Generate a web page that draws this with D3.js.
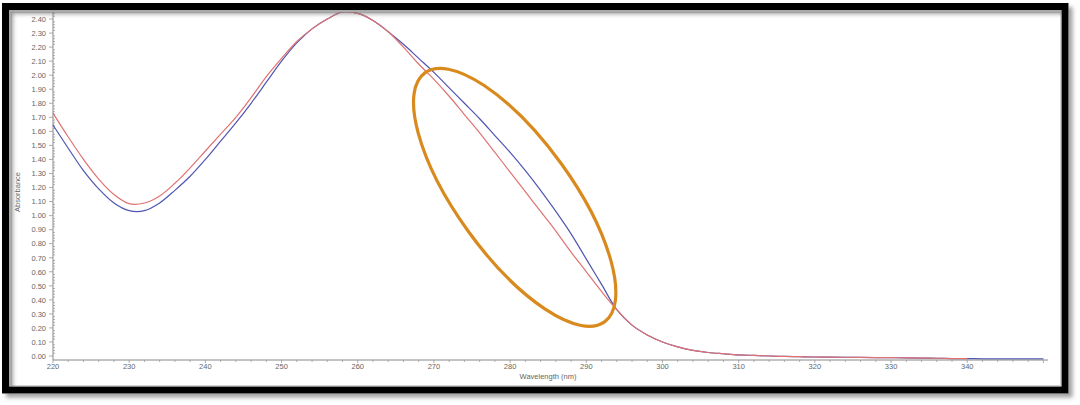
<!DOCTYPE html>
<html>
<head>
<meta charset="utf-8">
<script src="https://cdn.jsdelivr.net/npm/d3@7"></script>
<style>
  body { margin: 0; background: #fff; }
  svg { display: block; font-family: "Liberation Sans", Arial, sans-serif; }
</style>
</head>
<body>
<div id="chart"></div>
<script>

// wavelength (nm) and absorbance
var wavelengths = [220,222,224,226,228,230,232,234,236,238,240,242,244,246,248,250,252,254,256,258,
                   260,262,264,266,268,270,272,274,276,278,280,282,284,286,288,290,292,294,296,298,
                   300,302,304,306,308,310,312,314,316,318,320,322,324,326,328,330,332,334,336,338,
                   340,342,344,346,348,350];

var redValues = [1.73,1.56,1.40,1.26,1.15,1.085,1.09,1.14,1.23,1.34,1.46,1.58,1.70,1.84,1.99,2.12,2.24,2.33,2.40,2.45,
                 2.44,2.39,2.31,2.20,2.08,1.97,1.85,1.72,1.59,1.45,1.31,1.17,1.03,0.89,0.74,0.60,0.46,0.33,0.22,0.15,
                 0.10,0.065,0.04,0.025,0.016,0.008,0.004,0.0,-0.003,-0.005,-0.007,-0.008,-0.009,-0.010,-0.011,-0.012,-0.013,-0.015,-0.016,-0.018,
                 -0.019,null,null,null,null,null];

var blueValues = [1.645,1.48,1.32,1.19,1.09,1.035,1.035,1.09,1.18,1.28,1.40,1.53,1.66,1.80,1.95,2.10,2.23,2.33,2.40,2.45,
                  2.44,2.39,2.31,2.22,2.12,2.02,1.91,1.80,1.69,1.57,1.45,1.32,1.18,1.03,0.87,0.69,0.51,0.33,0.22,0.15,
                  0.10,0.065,0.04,0.025,0.016,0.008,0.004,0.0,-0.003,-0.005,-0.007,-0.008,-0.009,-0.010,-0.011,-0.012,-0.013,-0.015,-0.016,-0.018,
                  -0.019,-0.02,-0.02,-0.02,-0.02,-0.02];

var xTicks = [220,230,240,250,260,270,280,290,300,310,320,330,340];
var yTicks = d3.range(0, 25).map(function(i) { return i / 10; });

// highlighted region (ellipse) in data units
var highlight = {nm: 280.6, abs: 1.13};

var W = 1080, H = 405;

var x = d3.scaleLinear().domain([220, 350.6]).range([53, 1048]);
var y = d3.scaleLinear().domain([0, 2.4]).range([356, 19.04]);
var axisY = 360;

var svg = d3.select("#chart").append("svg")
    .attr("width", W)
    .attr("height", H);

var defs = svg.append("defs");
var f = defs.append("filter").attr("id", "shadow")
    .attr("x", "-5%").attr("y", "-5%").attr("width", "110%").attr("height", "115%");
f.append("feDropShadow").attr("dx", 4).attr("dy", 4).attr("stdDeviation", 2)
    .attr("flood-color", "#777").attr("flood-opacity", 0.7);

defs.append("clipPath").attr("id", "plotclip")
  .append("rect").attr("x", 11).attr("y", 12).attr("width", 1050).attr("height", 374);

svg.append("rect").attr("width", W).attr("height", H).attr("fill", "#fff");

// inner light border
svg.append("rect")
    .attr("x", 11.5).attr("y", 12.5).attr("width", 1049).attr("height", 373)
    .attr("fill", "none").attr("stroke", "#d4d4d4").attr("stroke-width", 1);

var plot = svg.append("g").attr("clip-path", "url(#plotclip)");

// y axis line + ticks
plot.append("line")
    .attr("x1", x(220)).attr("x2", x(220))
    .attr("y1", 10).attr("y2", axisY)
    .attr("stroke", "#888").attr("stroke-width", 1);

d3.range(0, 126).forEach(function(i) {
    var v = i / 50;
    var major = (i % 5 == 0);
    plot.append("line")
        .attr("x1", x(220) - (major ? 4 : 0)).attr("x2", x(220) + (major ? 0 : 2))
        .attr("y1", y(v)).attr("y2", y(v))
        .attr("stroke", "#999").attr("stroke-width", 0.8);
});

plot.selectAll(".ylab")
    .data(yTicks)
  .enter().append("text")
    .attr("class", "ylab")
    .attr("x", 46)
    .attr("y", function(d) { return y(d) + 2.8; })
    .attr("text-anchor", "end")
    .attr("font-size", 7.5)
    .attr("fill", "#666")
    .text(function(d) { return d.toFixed(2); });

// x axis line + ticks
svg.append("line")
    .attr("x1", x(220)).attr("x2", x(350.6))
    .attr("y1", axisY).attr("y2", axisY)
    .attr("stroke", "#888").attr("stroke-width", 1);

d3.range(220, 351, 2).forEach(function(v) {
    var major = (v % 10 == 0);
    svg.append("line")
        .attr("x1", x(v)).attr("x2", x(v))
        .attr("y1", axisY).attr("y2", axisY + (major ? 3 : 2))
        .attr("stroke", "#999").attr("stroke-width", 0.8);
});

svg.selectAll(".xlab")
    .data(xTicks)
  .enter().append("text")
    .attr("class", "xlab")
    .attr("x", function(d) { return x(d); })
    .attr("y", 369)
    .attr("text-anchor", "middle")
    .attr("font-size", 7.5)
    .attr("fill", "#666")
    .text(function(d) { return d; });

// axis titles
svg.append("text")
    .attr("transform", "translate(20,192) rotate(-90)")
    .attr("text-anchor", "middle")
    .attr("font-size", 7.5)
    .attr("fill", "#666")
    .text("Absorbance");

svg.append("text")
    .attr("x", 548).attr("y", 379)
    .attr("text-anchor", "middle")
    .attr("font-size", 7.5)
    .attr("fill", "#666")
    .text("Wavelength (nm)");

// spectra
function series(vals) {
    return wavelengths.map(function(w, i) { return {nm: w, v: vals[i]}; });
}

var line = d3.line()
    .defined(function(d) { return d.v !== null; })
    .x(function(d) { return x(d.nm); })
    .y(function(d) { return y(d.v); })
    .curve(d3.curveCatmullRom.alpha(0.5));

plot.append("path")
    .datum(series(blueValues))
    .attr("d", line)
    .attr("fill", "none")
    .attr("stroke", "#4f55b0")
    .attr("stroke-width", 1.2);

plot.append("path")
    .datum(series(redValues))
    .attr("d", line)
    .attr("fill", "none")
    .attr("stroke", "#e07272")
    .attr("stroke-width", 1.2);

// orange ellipse annotation
svg.append("ellipse")
    .attr("transform", "translate(" + x(highlight.nm) + "," + y(highlight.abs) + ") rotate(54.2)")
    .attr("rx", 153.5).attr("ry", 57.5)
    .attr("fill", "none")
    .attr("stroke", "#d98a1e")
    .attr("stroke-width", 3.2);

// thick black frame with shadow
svg.append("rect")
    .attr("x", 5.5).attr("y", 6.5).attr("width", 1059.5).attr("height", 383.5)
    .attr("fill", "none")
    .attr("stroke", "#000")
    .attr("stroke-width", 7)
    .attr("filter", "url(#shadow)");

</script>
</body>
</html>
